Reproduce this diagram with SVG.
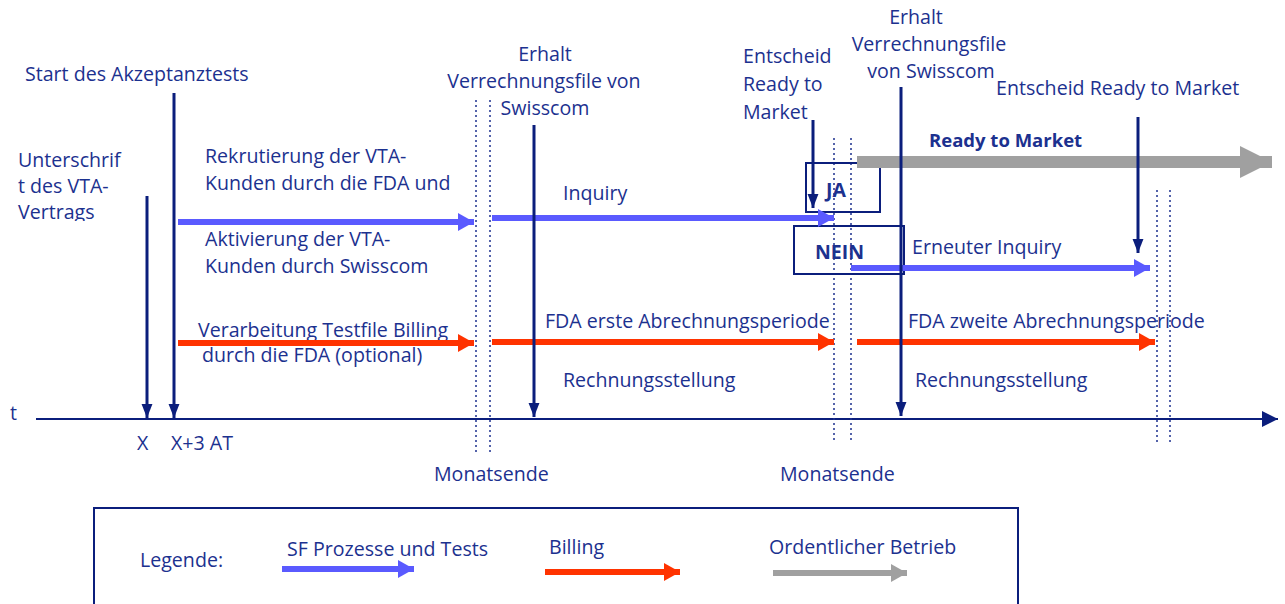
<svg xmlns="http://www.w3.org/2000/svg" width="1285" height="604" viewBox="0 0 1285 604">
<style>
text{font-family:"Open Sans","Noto Sans",sans-serif;font-size:19.6px;fill:#1c318f}
.b{font-weight:bold;font-size:18.5px}
.c{text-anchor:middle}
.nav{stroke:#0b1e7c;stroke-width:3;fill:none;marker-end:url(#mn)}
.sf{stroke:#5a5aff;stroke-width:6;fill:none;marker-end:url(#ms)}
.bill{stroke:#ff3300;stroke-width:6;fill:none;marker-end:url(#mr)}
.dot{stroke:#1c318f;stroke-width:1.5;stroke-dasharray:2 3;fill:none}
.box{stroke:#0b1e7c;stroke-width:2;fill:none}
</style>
<defs>
<marker id="mn" markerUnits="userSpaceOnUse" markerWidth="14" markerHeight="20" refX="18" refY="7" orient="auto" viewBox="0 0 18 14"><path d="M0,0 L18,7 L0,14 z" fill="#0b1e7c"/></marker>
<marker id="ms" markerUnits="userSpaceOnUse" markerWidth="16" markerHeight="18" refX="16" refY="9" orient="auto" viewBox="0 0 16 18"><path d="M0,0 L16,9 L0,18 z" fill="#5a5aff"/></marker>
<marker id="mr" markerUnits="userSpaceOnUse" markerWidth="16" markerHeight="18" refX="16" refY="9" orient="auto" viewBox="0 0 16 18"><path d="M0,0 L16,9 L0,18 z" fill="#ff3300"/></marker>
<marker id="mg" markerUnits="userSpaceOnUse" markerWidth="32" markerHeight="32" refX="32" refY="16" orient="auto" viewBox="0 0 32 32"><path d="M0,0 L32,16 L0,32 z" fill="#a0a0a0"/></marker>
<marker id="mgs" markerUnits="userSpaceOnUse" markerWidth="16" markerHeight="18" refX="16" refY="9" orient="auto" viewBox="0 0 16 18"><path d="M0,0 L16,9 L0,18 z" fill="#a0a0a0"/></marker>
<marker id="ma" markerUnits="userSpaceOnUse" markerWidth="16" markerHeight="16" refX="16" refY="8" orient="auto" viewBox="0 0 16 16"><path d="M0,0 L16,8 L0,16 z" fill="#0b1e7c"/></marker>
<clipPath id="clipU"><rect x="0" y="140" width="170" height="81"/></clipPath>
</defs>

<g id="axis">
<line x1="36" y1="419" x2="1278" y2="419" stroke="#0b1e7c" stroke-width="2" marker-end="url(#ma)"/>
<text x="10" y="420">t</text>
<text x="137" y="450">X</text>
<text x="171" y="450">X+3 AT</text>
</g>

<g id="month-ends">
<line class="dot" x1="476" y1="100" x2="476" y2="452"/>
<line class="dot" x1="490" y1="100" x2="490" y2="452"/>
<line class="dot" x1="834" y1="138" x2="834" y2="443"/>
<line class="dot" x1="851" y1="138" x2="851" y2="443"/>
<line class="dot" x1="1157" y1="190" x2="1157" y2="445"/>
<line class="dot" x1="1170" y1="190" x2="1170" y2="445"/>
<text x="434" y="481">Monatsende</text>
<text x="780" y="481">Monatsende</text>
</g>

<g id="labels">
<text x="25" y="81">Start des Akzeptanztests</text>
<g clip-path="url(#clipU)">
<text x="18" y="167">Unterschrif</text>
<text x="18" y="193">t des VTA-</text>
<text x="18" y="219">Vertrags</text>
</g>
<text x="205" y="163">Rekrutierung der VTA-</text>
<text x="205" y="190">Kunden durch die FDA und</text>
<text x="205" y="246">Aktivierung der VTA-</text>
<text x="205" y="273">Kunden durch Swisscom</text>
<text class="c" x="545" y="61">Erhalt</text>
<text class="c" x="544" y="88">Verrechnungsfile von</text>
<text class="c" x="545" y="115">Swisscom</text>
<text x="743" y="63">Entscheid</text>
<text x="743" y="91">Ready to</text>
<text x="743" y="119">Market</text>
<text class="c" x="916" y="24">Erhalt</text>
<text class="c" x="929" y="51">Verrechnungsfile</text>
<text class="c" x="931" y="78">von Swisscom</text>
<text x="996" y="95">Entscheid Ready to Market</text>
<text class="b" x="929" y="147">Ready to Market</text>
<text x="563" y="200">Inquiry</text>
<text x="912" y="254">Erneuter Inquiry</text>
<text x="198" y="337">Verarbeitung Testfile Billing</text>
<text x="202" y="362">durch die FDA (optional)</text>
<text x="545" y="328">FDA erste Abrechnungsperiode</text>
<text x="908" y="328">FDA zweite Abrechnungsperiode</text>
<text x="563" y="387">Rechnungsstellung</text>
<text x="915" y="387">Rechnungsstellung</text>
</g>

<g id="decision-ja">
<rect class="box" x="806" y="163" width="74" height="49"/>
<text class="b" x="826" y="197" style="font-size:19.5px">JA</text>
</g>
<g id="decision-nein">
<rect class="box" x="794" y="226" width="110" height="48"/>
<text class="b" x="815" y="259" style="font-size:19.5px">NEIN</text>
</g>

<g id="connectors">
<line x1="857" y1="162" x2="1272" y2="162" stroke="#a0a0a0" stroke-width="12" marker-end="url(#mg)"/>
<line class="sf" x1="178" y1="222" x2="474" y2="222"/>
<line class="sf" x1="492" y1="218" x2="834" y2="218"/>
<line class="sf" x1="851" y1="268" x2="1150" y2="268"/>
<line class="bill" x1="178" y1="343" x2="474" y2="343"/>
<line class="bill" x1="492" y1="342" x2="834" y2="342"/>
<line class="bill" x1="857" y1="342" x2="1155" y2="342"/>
<line class="nav" x1="147" y1="196" x2="147" y2="418"/>
<line class="nav" x1="174" y1="93" x2="174" y2="418"/>
<line class="nav" x1="534" y1="125" x2="534" y2="417"/>
<line class="nav" x1="813" y1="120" x2="813" y2="208"/>
<line class="nav" x1="901" y1="87" x2="901" y2="416"/>
<line class="nav" x1="1138" y1="117" x2="1138" y2="253"/>
</g>

<g id="legend">
<rect x="94" y="508" width="924" height="110" fill="none" stroke="#0b1e7c" stroke-width="2"/>
<text x="140" y="567">Legende:</text>
<text x="287" y="556">SF Prozesse und Tests</text>
<text x="549" y="554">Billing</text>
<text x="769" y="554">Ordentlicher Betrieb</text>
<line class="sf" x1="282" y1="569" x2="414" y2="569"/>
<line class="bill" x1="545" y1="572" x2="680" y2="572"/>
<line x1="773" y1="573" x2="907" y2="573" stroke="#a0a0a0" stroke-width="6" marker-end="url(#mgs)"/>
</g>
</svg>
